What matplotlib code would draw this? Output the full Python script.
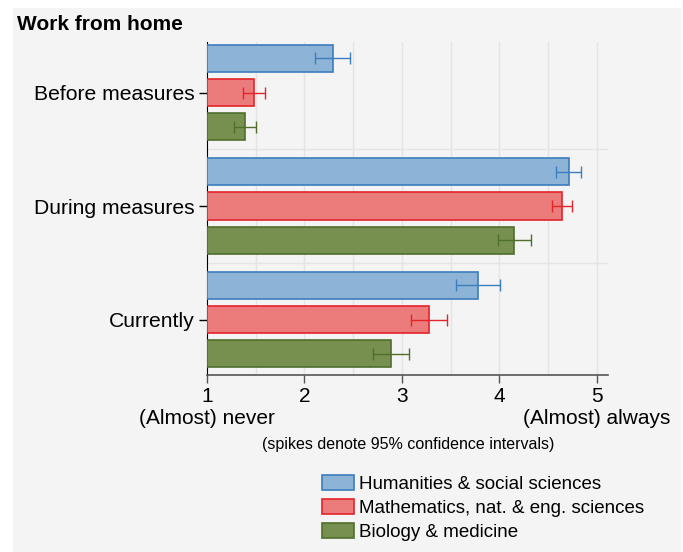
import matplotlib.pyplot as plt
import matplotlib.patches as mpatches
import numpy as np

plt.rcParams['font.family'] = ['Liberation Sans', 'DejaVu Sans']

# data
periods = ["Before measures", "During measures", "Currently"]
fields = ["Humanities & social sciences", "Mathematics, nat. & eng. sciences", "Biology & medicine"]
means = [
    [2.29, 4.71, 3.78],  # humanities
    [1.48, 4.64, 3.28],  # mathematics
    [1.39, 4.15, 2.89],  # biology
]
ci_low = [
    [2.11, 4.58, 3.55],
    [1.37, 4.54, 3.09],
    [1.28, 3.98, 2.70],
]
ci_high = [
    [2.47, 4.84, 4.01],
    [1.60, 4.74, 3.46],
    [1.50, 4.32, 3.07],
]
fills = ["#8db3d6", "#ec7b7b", "#77904f"]
edges = ["#3c7dbd", "#e3242b", "#4f6e2c"]

fig = plt.figure(figsize=(6.83, 5.52), dpi=100, facecolor="white")
# gray panel
fig.patches.append(mpatches.Rectangle((13 / 683, 0), 668 / 683, 544 / 552,
                                      transform=fig.transFigure, facecolor="#f4f4f4",
                                      edgecolor="none", zorder=-10))

ax = fig.add_axes([207 / 683, 1 - 375 / 552, 401 / 683, 333 / 552])
ax.set_facecolor("#f4f4f4")

offsets = [-0.3, 0.0, 0.3]
y = np.arange(len(periods))
for i in range(3):
    m = np.array(means[i])
    lo = m - np.array(ci_low[i])
    hi = np.array(ci_high[i]) - m
    ax.barh(y + offsets[i], m - 1, left=1, height=0.238, color=fills[i],
            edgecolor=edges[i], linewidth=1.2, zorder=3, label=fields[i])
    ax.errorbar(m, y + offsets[i], xerr=[lo, hi], fmt="none", ecolor=edges[i],
                elinewidth=1, capsize=4, capthick=1, zorder=4)

ax.set_xlim(1, 5.113)
ax.set_ylim(2.489, -0.445)

# grid
for gx in np.arange(1.5, 5.01, 0.5):
    ax.axvline(gx, color="#e4e4e4", linewidth=1, zorder=1)
for gy in [0.5, 1.5]:
    ax.axhline(gy, color="#e4e4e4", linewidth=1, zorder=1)

ax.set_yticks(y)
ax.set_yticklabels(periods, fontsize=15.2)
ax.set_xticks([1, 2, 3, 4, 5])
ax.set_xticklabels(["1\n(Almost) never", "2", "3", "4", "5\n(Almost) always"],
                   fontsize=15, linespacing=1.2)
ax.tick_params(axis="y", length=6, width=1, color="black", pad=3)
ax.tick_params(axis="x", length=6, width=1, color="#555555", pad=3)

for s in ["top", "right"]:
    ax.spines[s].set_visible(False)
ax.spines["left"].set_color("black")
ax.spines["bottom"].set_color("#555555")
ax.spines["bottom"].set_linewidth(1.2)

fig.text(17 / 683, 1 - 24 / 552, "Work from home", fontsize=15, fontweight="bold",
         ha="left", va="center")
fig.text(408 / 683, 1 - 444 / 552, "(spikes denote 95% confidence intervals)",
         fontsize=11.5, ha="center", va="center")

handles = [mpatches.Patch(facecolor=fills[i], edgecolor=edges[i], linewidth=1.2, label=fields[i])
           for i in range(3)]
fig.legend(handles=handles, loc="upper left", bbox_to_anchor=(322 / 683, 1 - 475 / 552),
           frameon=False, fontsize=13.5, handlelength=1.7, handleheight=0.85,
           handletextpad=0.25, labelspacing=0.33, borderaxespad=0, borderpad=0)

fig.savefig("out.png", dpi=100, facecolor="white")
